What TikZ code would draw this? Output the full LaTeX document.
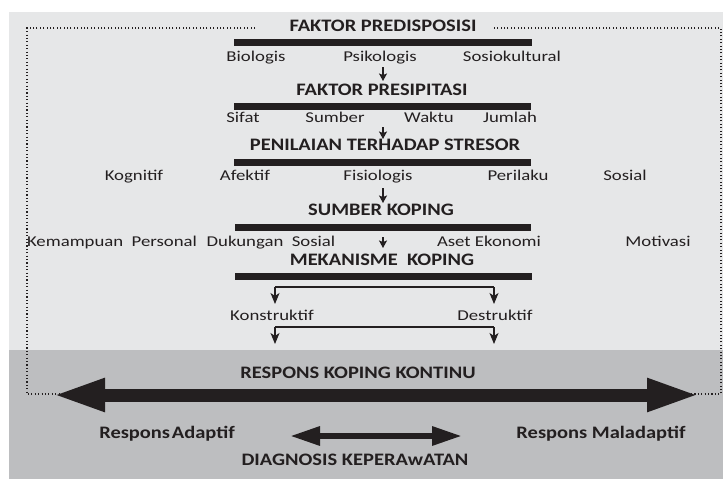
\documentclass[tikz,border=0pt]{standalone}
\usepackage{fontspec}
\setmainfont{Carlito}
\newfontfamily\labfont{Carlito}[FakeStretch=1.25]
\newfontfamily\headfont{Carlito}[FakeStretch=1.17]
\usetikzlibrary{arrows.meta}
\definecolor{bglight}{HTML}{E6E7E8}
\definecolor{bgdark}{HTML}{BDBEC0}
\definecolor{ink}{HTML}{231F20}
\tikzset{
  head/.style={font=\headfont\bfseries\fontsize{17.5}{20}\selectfont, text=ink, inner sep=0pt, text height=0.645em, text depth=0pt},
  lab/.style={font=\labfont\fontsize{15}{18}\selectfont, text=ink, inner sep=0pt, text height=0.645em, text depth=0pt},
  bar/.style={draw=ink, line width=7pt},
  smallarrow/.style={draw=ink, line width=1.3pt, -{Stealth[length=7.5pt,width=8pt,inset=1.5pt]}},
  brackline/.style={draw=ink, line width=1.1pt},
  brackarrow/.style={draw=ink, line width=1.1pt, -{Stealth[length=11pt,width=9pt,inset=3pt]}},
  frame/.style={draw=ink, line width=1.2pt, dash pattern=on 1.1pt off 2.3pt},
  bigarrow/.style={draw=ink, line width=13pt, {Triangle[length=53pt,width=30pt]}-{Triangle[length=53pt,width=30pt]}},
  midarrow/.style={draw=ink, line width=6pt, {Triangle[length=30pt,width=18pt]}-{Triangle[length=30pt,width=18pt]}},
}
\begin{document}
\begin{tikzpicture}[x=1pt,y=-1pt]
\useasboundingbox (0,0) rectangle (723,479);
\fill[white] (0,0) rectangle (723,479);
\fill[bglight] (9,12) rectangle (723,350);
\fill[bgdark] (9,350) rectangle (723,479);

% dotted frame
\coordinate (fTL) at (27,28);
\coordinate (fTR) at (721,28);
\coordinate (fBL) at (27,394);
\coordinate (fBR) at (721,394);
\coordinate (gapL) at (255,28);
\coordinate (gapR) at (492,28);
\draw[frame] (gapL) -- (fTL) -- (fBL) -- (fBR) -- (fTR) -- (gapR);

% headings
\node[head] (pred)   at (383,28)  {FAKTOR PREDISPOSISI};
\node[head] (presip) at (382,92)  {FAKTOR PRESIPITASI};
\node[head] (penil)  at (385,147) {PENILAIAN TERHADAP STRESOR};
\node[head] (sumber) at (381,212) {SUMBER KOPING};
\node[head] (mekan)  at (382,262) {MEKANISME\ \ KOPING};

% bars
\draw[bar] (234,42) -- (532,42);
\draw[bar] (234,106) -- (531,106);
\draw[bar] (234,162) -- (531,162);
\draw[bar] (235,227) -- (531,227);
\draw[bar] (235,276) -- (532,276);

% labels row 1
\node[lab] (biol) at (256,58) {Biologis};
\node[lab] (psik) at (380,58) {Psikologis};
\node[lab] (sosk) at (512,58) {Sosiokultural};
% row 2
\node[lab] (sifat) at (243,119) {Sifat};
\node[lab] (sumb)  at (335,119) {Sumber};
\node[lab] (waktu) at (429,119) {Waktu};
\node[lab] (jml)   at (510,119) {Jumlah};
% row 3
\node[lab] (kogn) at (134,177) {Kognitif};
\node[lab] (afek) at (245,177) {Afektif};
\node[lab] (fisi) at (378,177) {Fisiologis};
\node[lab] (peri) at (518,177) {Perilaku};
\node[lab] (sosi) at (625,177) {Sosial};
% row 4
\node[lab] (kemp) at (112,243) {Kemampuan\ \ Personal};
\node[lab] (duk)  at (271,243) {Dukungan\ \ Sosial};
\node[lab] (aset) at (489,243) {Aset\ Ekonomi};
\node[lab] (moti) at (658,243) {Motivasi};

% small down arrows
\coordinate (a1s) at (383,67);  \coordinate (a1e) at (383,81);
\coordinate (a2s) at (383,127); \coordinate (a2e) at (383,139);
\coordinate (a3s) at (383,188); \coordinate (a3e) at (383,203);
\coordinate (a4s) at (383,237); \coordinate (a4e) at (383,248);
\draw[smallarrow] (a1s) -- (a1e);
\draw[smallarrow] (a2s) -- (a2e);
\draw[smallarrow] (a3s) -- (a3e);
\draw[smallarrow] (a4s) -- (a4e);

% bracket 1
\node[lab] (kons) at (272,317) {Konstruktif};
\node[lab] (dest) at (495,317) {Destruktif};
\coordinate (b1L) at (275,287);
\coordinate (b1R) at (494,287);
\coordinate (b1Le) at (275,304);
\coordinate (b1Re) at (494,304);
\draw[brackline] (b1L) -- (b1R);
\draw[brackarrow] (b1L) -- (b1Le);
\draw[brackarrow] (b1R) -- (b1Re);
% bracket 2
\coordinate (b2L) at (275,327);
\coordinate (b2R) at (494,327);
\coordinate (b2Le) at (275,344);
\coordinate (b2Re) at (494,344);
\draw[brackline] (b2L) -- (b2R);
\draw[brackarrow] (b2L) -- (b2Le);
\draw[brackarrow] (b2R) -- (b2Re);

% bottom part
\node[head] (resp) at (358,375) {RESPONS KOPING KONTINU};
\coordinate (bigL) at (52,395);
\coordinate (bigR) at (700,395);
\draw[bigarrow] (bigL) -- (bigR);

\node[head] (adap)  at (167,435) {Respons\hspace{0.1em}Adaptif};
\node[head] (malad) at (601,435) {Respons Maladaptif};
\coordinate (midL) at (290,436);
\coordinate (midR) at (462,436);
\draw[midarrow] (midL) -- (midR);
\node[head] (diag) at (355,462) {DIAGNOSIS KEPERAwATAN};
\end{tikzpicture}
\end{document}
